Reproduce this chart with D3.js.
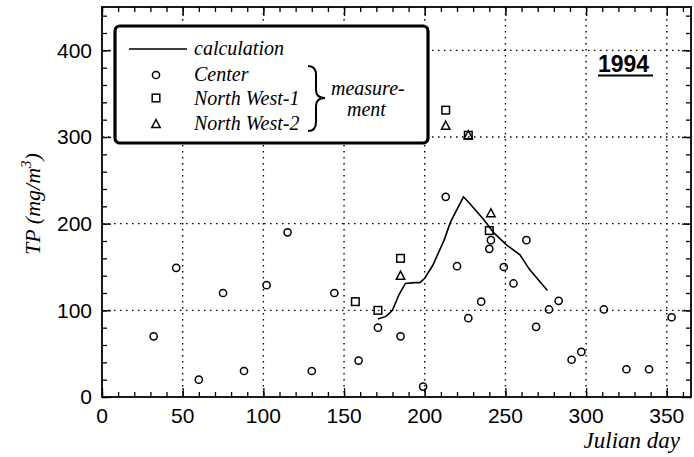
<!DOCTYPE html>
<html>
<head>
<meta charset="utf-8">
<script src="https://cdnjs.cloudflare.com/ajax/libs/d3/7.8.5/d3.min.js"></script>
<style>
  body { margin: 0; background: #fff; }
  .tick-label { font-family: "Liberation Sans", Arial, sans-serif; font-size: 21px; fill: #000; }
  .serif { font-family: "Liberation Serif", "Times New Roman", serif; font-style: italic; fill: #000; }
  .grid { stroke: #000; stroke-width: 1.4; stroke-dasharray: 1.5,4.5; }
</style>
</head>
<body>
<svg id="chart"></svg>
<script>
// Center measurements
const centerDay = [32, 46, 60, 75, 88, 102, 115, 130, 144, 159, 171, 185, 199, 213, 220, 227, 235, 241, 240, 249, 255, 263, 269, 277, 283, 291, 297, 311, 325, 339, 353]
const centerTP  = [70, 149, 20, 120, 30, 129, 190, 30, 120, 42, 80, 70, 12, 231, 151, 91, 110, 181, 171, 150, 131, 181, 81, 101, 111, 43, 52, 101, 32, 32, 92]

// North West-1
const nw1Day = [157, 171, 185, 213, 227, 240]
const nw1TP  = [110, 100, 160, 331, 302, 192]

// North West-2
const nw2Day = [185, 213, 227, 241]
const nw2TP  = [140, 313, 302, 212]

// calculation
const calcDay = [171, 176, 180, 184, 188, 194, 197, 200, 205, 212, 216, 224, 228, 236, 243, 251, 259, 265, 276]
const calcTP  = [90, 93, 100, 118, 131, 132, 132, 137, 152, 181, 202, 231, 223, 206, 189, 175, 164, 147, 123]

const xTicks = [0, 50, 100, 150, 200, 250, 300, 350]
const yTicks = [0, 100, 200, 300, 400]

const W = 694, H = 457
const plot = { left: 102, right: 691, top: 7, bottom: 397 }

const svg = d3.select('#chart').attr('width', W).attr('height', H)

const x = d3.scaleLinear().domain([0, 365]).range([plot.left, plot.right])
const y = d3.scaleLinear().domain([0, 450]).range([plot.bottom, plot.top])

// dotted grid
svg.append('g').selectAll('line').data(xTicks.slice(1))
   .enter().append('line').attr('class', 'grid')
   .attr('x1', d => x(d)).attr('x2', d => x(d))
   .attr('y1', plot.top).attr('y2', plot.bottom)
svg.append('g').selectAll('line').data(yTicks.slice(1))
   .enter().append('line').attr('class', 'grid')
   .attr('x1', plot.left).attr('x2', plot.right)
   .attr('y1', d => y(d)).attr('y2', d => y(d))

// axes: ticks pointing inside on all four sides
function styleAxis(g) {
    g.select('.domain').remove()
    g.selectAll('line').attr('stroke', '#000').attr('stroke-width', 1.3)
}
const minorX = d3.range(0, 366, 10)
const minorY = d3.range(0, 451, 20)

svg.append('g').attr('transform', `translate(0,${plot.bottom})`)
   .call(d3.axisBottom(x).tickValues(minorX).tickSize(-5).tickFormat('')).call(styleAxis)
svg.append('g').attr('transform', `translate(0,${plot.bottom})`)
   .call(d3.axisBottom(x).tickValues(xTicks).tickSize(-9).tickFormat('')).call(styleAxis)
svg.append('g').attr('transform', `translate(0,${plot.top})`)
   .call(d3.axisTop(x).tickValues(minorX).tickSize(-5).tickFormat('')).call(styleAxis)
svg.append('g').attr('transform', `translate(0,${plot.top})`)
   .call(d3.axisTop(x).tickValues(xTicks).tickSize(-9).tickFormat('')).call(styleAxis)
svg.append('g').attr('transform', `translate(${plot.left},0)`)
   .call(d3.axisLeft(y).tickValues(minorY).tickSize(-5).tickFormat('')).call(styleAxis)
svg.append('g').attr('transform', `translate(${plot.left},0)`)
   .call(d3.axisLeft(y).tickValues(yTicks).tickSize(-9).tickFormat('')).call(styleAxis)
svg.append('g').attr('transform', `translate(${plot.right},0)`)
   .call(d3.axisRight(y).tickValues(minorY).tickSize(-5).tickFormat('')).call(styleAxis)
svg.append('g').attr('transform', `translate(${plot.right},0)`)
   .call(d3.axisRight(y).tickValues(yTicks).tickSize(-9).tickFormat('')).call(styleAxis)

// frame
svg.append('rect')
   .attr('x', plot.left).attr('y', plot.top)
   .attr('width', plot.right - plot.left).attr('height', plot.bottom - plot.top)
   .attr('fill', 'none').attr('stroke', '#000').attr('stroke-width', 1.8)

// tick labels
svg.append('g').selectAll('text').data(xTicks)
   .enter().append('text').attr('class', 'tick-label')
   .attr('x', d => x(d)).attr('y', 423)
   .attr('text-anchor', 'middle')
   .text(d => d)
svg.append('g').selectAll('text').data(yTicks)
   .enter().append('text').attr('class', 'tick-label')
   .attr('x', 92).attr('y', d => y(d)).attr('dy', '.35em')
   .attr('text-anchor', 'end')
   .text(d => d)

// axis titles
svg.append('text').attr('class', 'serif')
   .attr('x', 680).attr('y', 448)
   .attr('text-anchor', 'end').style('font-size', '23px')
   .text('Julian day')

var ylab = svg.append('text').attr('class', 'serif')
   .attr('transform', 'translate(40,204) rotate(-90)')
   .attr('text-anchor', 'middle').style('font-size', '22px')
ylab.append('tspan').text('TP (mg/m')
ylab.append('tspan').attr('dy', -9).style('font-size', '15px').text('3')
ylab.append('tspan').attr('dy', 9).text(')')

// calculation line
svg.append('path')
   .datum(calcDay.map((d, i) => [d, calcTP[i]]))
   .attr('fill', 'none').attr('stroke', '#000').attr('stroke-width', 1.6)
   .attr('d', d3.line().x(d => x(d[0])).y(d => y(d[1])))

// markers
function circles(g, px, py) {
    g.append('circle').attr('cx', px).attr('cy', py).attr('r', 3.6)
     .attr('fill', 'none').attr('stroke', '#000').attr('stroke-width', 1.5)
}
function squares(g, px, py) {
    g.append('rect').attr('x', px - 3.8).attr('y', py - 3.8)
     .attr('width', 7.6).attr('height', 7.6)
     .attr('fill', 'none').attr('stroke', '#000').attr('stroke-width', 1.5)
}
function triangles(g, px, py) {
    g.append('path')
     .attr('d', `M${px},${py - 4.5}L${px + 4.2},${py + 3.5}L${px - 4.2},${py + 3.5}Z`)
     .attr('fill', 'none').attr('stroke', '#000').attr('stroke-width', 1.5)
}
var pts = svg.append('g')
centerDay.forEach((d, i) => circles(pts, x(d), y(centerTP[i])))
nw1Day.forEach((d, i) => squares(pts, x(d), y(nw1TP[i])))
nw2Day.forEach((d, i) => triangles(pts, x(d), y(nw2TP[i])))

// legend
var legend = svg.append('g')
legend.append('rect')
      .attr('x', 115).attr('y', 26)
      .attr('width', 313).attr('height', 117)
      .attr('rx', 5).attr('ry', 5)
      .attr('fill', '#fff').attr('stroke', '#000').attr('stroke-width', 3.2)

legend.append('line')
      .attr('x1', 129).attr('x2', 187)
      .attr('y1', 49).attr('y2', 49)
      .attr('stroke', '#000').attr('stroke-width', 1.6)

const legendRows = [
    { label: 'calculation', y: 55 },
    { label: 'Center', y: 81 },
    { label: 'North West-1', y: 105 },
    { label: 'North West-2', y: 130 },
]
legend.selectAll('.lt').data(legendRows)
      .enter().append('text').attr('class', 'serif lt')
      .attr('x', 194).attr('y', d => d.y)
      .style('font-size', '20px')
      .text(d => d.label)

circles(legend, 156, 75)
squares(legend, 156, 98)
triangles(legend, 156, 124)

// brace around the measurement entries
legend.append('path')
      .attr('d', 'M308,66 Q316,66 316,75 L316,90 Q316,98 325,98 Q316,98 316,106 L316,122 Q316,131 308,131')
      .attr('fill', 'none').attr('stroke', '#000').attr('stroke-width', 2)

legend.append('text').attr('class', 'serif')
      .attr('x', 331).attr('y', 95).style('font-size', '20px')
      .text('measure-')
legend.append('text').attr('class', 'serif')
      .attr('x', 347).attr('y', 116).style('font-size', '20px')
      .text('ment')

// year label
svg.append('text')
   .attr('x', 598).attr('y', 72)
   .style('font-family', '"Liberation Sans", Arial, sans-serif')
   .style('font-weight', 'bold').style('font-size', '23px')
   .text('1994')
svg.append('line')
   .attr('x1', 598).attr('x2', 653)
   .attr('y1', 75.5).attr('y2', 75.5)
   .attr('stroke', '#000').attr('stroke-width', 2.2)
</script>
</body>
</html>
